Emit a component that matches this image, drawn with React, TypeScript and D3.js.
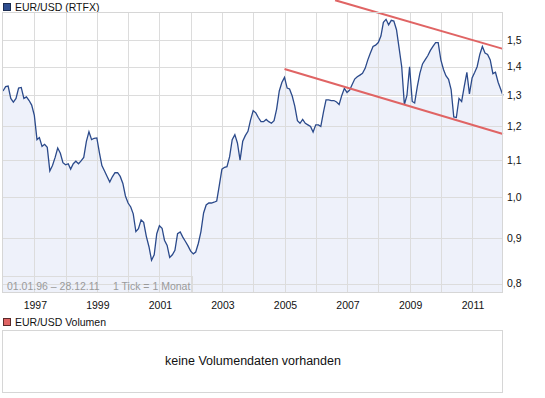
import React from "react";
import * as d3 from "d3";

// monthly closes, 01.1996 .. 12.2011
const startYear = 1996;
const eurUsd: number[] = [
  1.315, 1.33, 1.332, 1.29, 1.278, 1.29, 1.325, 1.327, 1.29, 1.295, 1.283, 1.268,
  1.235, 1.16, 1.166, 1.14, 1.146, 1.137, 1.07, 1.085, 1.108, 1.135, 1.12, 1.093,
  1.087, 1.09, 1.075, 1.09, 1.097, 1.09, 1.098, 1.108, 1.155, 1.184, 1.16, 1.164,
  1.165, 1.12, 1.085, 1.07, 1.055, 1.04, 1.054, 1.065, 1.065, 1.055, 1.036, 1.003,
  0.985, 0.975, 0.958, 0.915, 0.922, 0.943, 0.937, 0.904, 0.88, 0.85, 0.862, 0.91,
  0.929, 0.923, 0.895, 0.883, 0.856, 0.862, 0.872, 0.91, 0.914, 0.902, 0.892, 0.882,
  0.87, 0.864, 0.868, 0.888, 0.915, 0.96, 0.98, 0.985, 0.985, 0.987, 0.99, 1.03,
  1.075, 1.08, 1.082, 1.11, 1.16, 1.175, 1.15, 1.1, 1.155, 1.172, 1.185, 1.22,
  1.25, 1.243, 1.228, 1.215, 1.215, 1.222, 1.215, 1.21, 1.218, 1.255, 1.315, 1.344,
  1.362, 1.325, 1.322, 1.298, 1.265, 1.218, 1.21, 1.222, 1.21, 1.205, 1.2, 1.183,
  1.205, 1.205, 1.2, 1.245, 1.285, 1.285, 1.283, 1.283, 1.278, 1.27, 1.3, 1.324,
  1.31, 1.318, 1.336, 1.356, 1.364, 1.37, 1.376, 1.394, 1.425, 1.45, 1.475, 1.48,
  1.49, 1.515, 1.57, 1.582, 1.56, 1.578, 1.575, 1.54, 1.468, 1.4, 1.27, 1.3,
  1.4, 1.28, 1.275, 1.33, 1.376, 1.41, 1.425, 1.44, 1.46, 1.475, 1.49, 1.49,
  1.425, 1.39, 1.368, 1.355, 1.32, 1.23, 1.228, 1.29, 1.28, 1.33, 1.38, 1.305,
  1.36, 1.38, 1.4, 1.445, 1.475, 1.45, 1.445, 1.425, 1.375, 1.38, 1.345, 1.3,
];

const yTicks = [0.8, 0.9, 1.0, 1.1, 1.2, 1.3, 1.4, 1.5];
const yearGrid = [1997, 1998, 1999, 2000, 2001, 2002, 2003, 2004, 2005, 2006, 2007, 2008, 2009, 2010, 2011];
const yearLabels = [1997, 1999, 2001, 2003, 2005, 2007, 2009, 2011];
const lastQuote = 1.3;

// hand drawn trend channel
const trendLower = [
  { date: new Date(2005, 0, 1), value: 1.392 },
  { date: new Date(2011, 11, 28), value: 1.177 },
];
const trendUpper = [
  { date: new Date(2006, 7, 15), value: 1.662 },
  { date: new Date(2011, 11, 28), value: 1.466 },
];

const W = 545;
const H = 398;
const plot = { left: 3, right: 503, top: 13, bottom: 293 };
const font = '"Liberation Sans", Arial, sans-serif';

export default function App() {
  const endDate = new Date(2011, 11, 28);
  const data = eurUsd.map((v, i) => ({
    date: i === eurUsd.length - 1 ? endDate : new Date(startYear, i, 1),
    value: v,
  }));

  const x = d3.scaleTime().domain([new Date(startYear, 0, 1), endDate]).range([plot.left, plot.right]);
  const y = d3.scaleLog().domain([0.781, 1.608]).range([plot.bottom, plot.top]);

  const line = d3.line<{ date: Date; value: number }>().x((d) => x(d.date)).y((d) => y(d.value));
  const area = d3
    .area<{ date: Date; value: number }>()
    .x((d) => x(d.date))
    .y0(plot.bottom)
    .y1((d) => y(d.value));

  const crisp = (v: number) => Math.round(v) + 0.5;

  return (
    <svg width={W} height={H} style={{ position: "absolute", left: 0, top: 0, background: "#fff" }} fontFamily={font}>
      {/* legend price */}
      <rect x={3.5} y={3.5} width={7} height={7} fill="#2e4d8f" stroke="#1c2c50" />
      <text x={15} y={11} fontSize={10.5} fill="#111">EUR/USD (RTFX)</text>

      <path d={area(data) || ""} fill="#eef1fa" />

      {yearGrid.map((yr) => (
        <line key={"vx" + yr} x1={crisp(x(new Date(yr, 0, 1)))} x2={crisp(x(new Date(yr, 0, 1)))}
          y1={plot.top} y2={plot.bottom} stroke="#dcdcdc" />
      ))}
      {yTicks.map((t) => (
        <line key={"hy" + t} x1={plot.left} x2={plot.right} y1={crisp(y(t))} y2={crisp(y(t))} stroke="#dcdcdc" />
      ))}
      <line x1={x(new Date(2006, 9, 1))} x2={plot.right} y1={crisp(y(lastQuote)) + 1} y2={crisp(y(lastQuote)) + 1}
        stroke="#fff" />

      <rect x={2.5} y={276.5} width={190} height={16} fill="none" stroke="#dcdcdc" />
      <text x={7} y={290} fontSize={10.5} fill="#9a9a9a">01.01.96 – 28.12.11</text>
      <text x={113} y={290} fontSize={10.5} fill="#9a9a9a">1 Tick = 1 Monat</text>

      <path d={line(data) || ""} fill="none" stroke="#2b4a8b" strokeWidth={1.3} />

      <path d={line(trendLower) || ""} stroke="#e06464" strokeWidth={2} fill="none" />
      <path d={line(trendUpper) || ""} stroke="#e06464" strokeWidth={2} fill="none" />

      <rect x={plot.left - 0.5} y={plot.top - 0.5} width={plot.right - plot.left} height={plot.bottom - plot.top}
        fill="none" stroke="#d6d6d6" />

      {yTicks.map((t) => (
        <text key={"yl" + t} x={507} y={y(t)} dy="0.36em" fontSize={10.5} fill="#111">
          {d3.format(".1f")(t).replace(".", ",")}
        </text>
      ))}
      {yearLabels.map((yr) => (
        <text key={"xl" + yr} x={x(new Date(yr, 0, 1)) + 1} y={309} fontSize={10.5} textAnchor="middle" fill="#111">
          {yr}
        </text>
      ))}

      {/* volume panel */}
      <rect x={3.5} y={318.5} width={7} height={7} fill="#e06464" stroke="#5a2a2a" />
      <text x={15} y={326} fontSize={10.5} fill="#111">EUR/USD Volumen</text>
      <rect x={2.5} y={330.5} width={500} height={62} fill="#fff" stroke="#d6d6d6" />
      <text x={(plot.left + plot.right) / 2} y={365} fontSize={12.5} textAnchor="middle" fill="#111">
        keine Volumendaten vorhanden
      </text>
    </svg>
  );
}
